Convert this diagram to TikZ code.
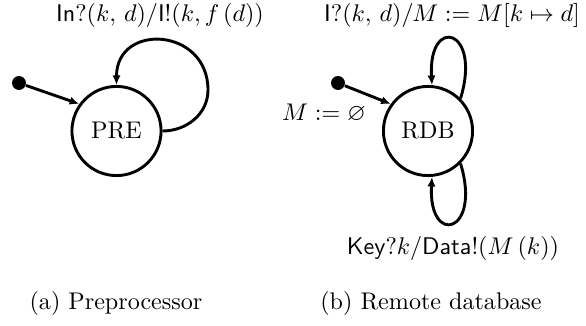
\documentclass[tikz,border=0pt]{standalone}
\usepackage{amssymb}
\usetikzlibrary{arrows.meta}
\begin{document}
\begin{tikzpicture}[x=0.415pt,y=-0.415pt,
  state/.style={circle,draw,line width=1.2pt,minimum size=37pt,inner sep=0pt},
  initdot/.style={circle,fill,minimum size=5.8pt,inner sep=0pt},
  trans/.style={line width=1.2pt,-{Latex[length=4pt,width=3.4pt]}},
  lbl/.style={inner sep=0pt}]
\useasboundingbox (0,0) rectangle (586,326);
% (a) Preprocessor
\node[state] (pre) at (116.5,131) {PRE};
\node[initdot] (d1) at (19,83) {};
\draw[trans] (d1) -- (pre.144);
\coordinate (l1) at (208,90);
\draw[trans] (pre.east) to[out=0,in=-90] (l1) to[out=90,in=90,looseness=1.75] (pre.north);
\node[lbl] (la) at (160,15) {$\textsf{In}?(k,\,d)/\textsf{I}!(k,f\,(d))$};
\node[lbl] (ca) at (116,303) {(a) Preprocessor};
% (b) Remote database
\node[state] (rdb) at (428,131) {RDB};
\node[initdot] (d2) at (338,83) {};
\draw[trans] (d2) -- (rdb.144);
\node[lbl] (init) at (324,113) {$M := \varnothing$};
\draw[trans] (rdb.45) .. controls (482,28) and (428,15) .. (rdb.85);
\draw[trans] (rdb.-45) .. controls (482,234) and (428,247) .. (rdb.-85);
\node[lbl] (lb1) at (452,15) {$\textsf{I}?(k,\,d)/M := M[k \mapsto d]$};
\node[lbl] (lb2) at (453,248) {$\textsf{Key}?k/\textsf{Data}!(M\,(k))$};
\node[lbl] (cb) at (431,303) {(b) Remote database};
\end{tikzpicture}
\end{document}
